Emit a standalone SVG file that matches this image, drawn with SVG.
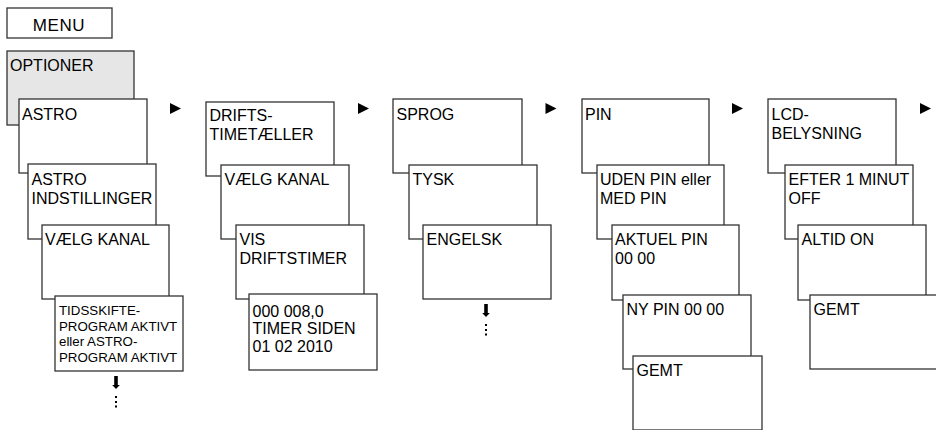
<svg xmlns="http://www.w3.org/2000/svg" width="936" height="430" viewBox="0 0 936 430">
<style>
.b{fill:#fff;stroke:#333;stroke-width:1.3}
.g{fill:#e6e6e6;stroke:#333;stroke-width:1.3}
text{font-family:"Liberation Sans",Arial,sans-serif;font-size:16px;fill:#000}
.s{font-size:13.3px}
.tri{fill:#000}
</style>
<defs>
<polygon id="ar" class="tri" points="0,0 11,5.5 0,11"/>
<g id="dn">
<rect x="-1.8" y="0" width="3.6" height="9.5" fill="#000"/>
<polygon points="-3.8,9 3.8,9 0,13" fill="#000"/>
<rect x="-1" y="20" width="2" height="2" fill="#000"/>
<rect x="-1" y="25" width="2" height="2" fill="#000"/>
<rect x="-1" y="29.5" width="2" height="2" fill="#000"/>
</g>
</defs>
<g id="menu"><rect class="b" x="7" y="8" width="105" height="30"/><text x="59" y="30.5" text-anchor="middle" style="font-size:17px;letter-spacing:0.6px">MENU</text></g>
<g id="optioner"><rect class="g" x="7" y="51" width="127" height="74"/><text x="10" y="70.5">OPTIONER</text></g>
<g id="astro"><rect class="b" x="19" y="99" width="128" height="74"/><text x="22" y="120">ASTRO</text></g>
<g id="astro-indst"><rect class="b" x="28" y="164" width="128" height="75"/><text x="31.5" y="185">ASTRO</text><text x="31.5" y="204">INDSTILLINGER</text></g>
<g id="vaelg1"><rect class="b" x="42" y="225" width="127" height="74"/><text x="45" y="245">VÆLG KANAL</text></g>
<g id="tidsskifte"><rect class="b" x="55" y="296" width="128" height="75"/><text class="s" x="59" y="315">TIDSSKIFTE-</text><text class="s" x="59" y="330.5">PROGRAM AKTIVT</text><text class="s" x="59" y="346">eller ASTRO-</text><text class="s" x="59" y="361.5">PROGRAM AKTIVT</text></g>
<g id="drifts"><rect class="b" x="206" y="102" width="128" height="74"/><text x="209.5" y="121">DRIFTS-</text><text x="209.5" y="140">TIMETÆLLER</text></g>
<g id="vaelg2"><rect class="b" x="221" y="165" width="128" height="74"/><text x="224.5" y="185">VÆLG KANAL</text></g>
<g id="vis"><rect class="b" x="236" y="225" width="128" height="74"/><text x="239.5" y="245">VIS</text><text x="239.5" y="264">DRIFTSTIMER</text></g>
<g id="timer"><rect class="b" x="249" y="294" width="128" height="76"/><text x="252.5" y="316.5">000 008,0</text><text x="252.5" y="334">TIMER SIDEN</text><text x="252.5" y="351.5">01 02 2010</text></g>
<g id="sprog"><rect class="b" x="393" y="99" width="129" height="74"/><text x="396.5" y="119.5">SPROG</text></g>
<g id="tysk"><rect class="b" x="409" y="165" width="128" height="74"/><text x="412.5" y="185">TYSK</text></g>
<g id="engelsk"><rect class="b" x="423" y="225" width="128" height="74"/><text x="426.5" y="245">ENGELSK</text></g>
<g id="pin"><rect class="b" x="582" y="99" width="127" height="74"/><text x="585" y="119.5">PIN</text></g>
<g id="uden"><rect class="b" x="597" y="165" width="127" height="74"/><text x="600" y="185">UDEN PIN eller</text><text x="600" y="204">MED PIN</text></g>
<g id="aktuel"><rect class="b" x="612" y="225" width="127" height="75"/><text x="615" y="245">AKTUEL PIN</text><text x="615" y="264">00 00</text></g>
<g id="nypin"><rect class="b" x="623" y="295" width="128" height="74"/><text x="626.5" y="315">NY PIN 00 00</text></g>
<g id="gemt1"><rect class="b" x="633" y="356" width="129" height="74"/><text x="636.5" y="376">GEMT</text></g>
<g id="lcd"><rect class="b" x="768" y="99" width="128" height="74"/><text x="771.5" y="119.5">LCD-</text><text x="771.5" y="138.5">BELYSNING</text></g>
<g id="efter"><rect class="b" x="785" y="165" width="128" height="74"/><text x="788.5" y="185">EFTER 1 MINUT</text><text x="788.5" y="204">OFF</text></g>
<g id="altid"><rect class="b" x="798" y="225" width="128" height="75"/><text x="801.5" y="245">ALTID ON</text></g>
<g id="gemt2"><rect class="b" x="810" y="295" width="128" height="74"/><text x="813.5" y="315">GEMT</text></g>
<g id="connectors">
<use href="#ar" x="170" y="103"/>
<use href="#ar" x="358" y="103"/>
<use href="#ar" x="545.5" y="103"/>
<use href="#ar" x="732" y="103"/>
<use href="#ar" x="920" y="103"/>
<use href="#dn" x="116" y="376"/>
<use href="#dn" x="486" y="304"/>
</g>
</svg>
